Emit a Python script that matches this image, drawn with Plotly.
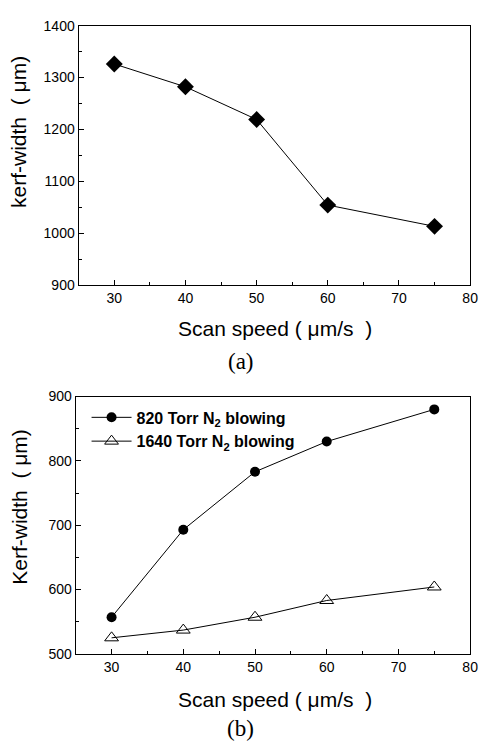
import plotly.graph_objects as go

W, H = 486, 749

# Data
speed = [30, 40, 50, 60, 75]
kerf_a = [1326, 1282, 1219, 1054, 1013]
kerf_820 = [557, 693, 783, 830, 880]
kerf_1640 = [525, 537, 557, 583, 604]
name_820 = "820 Torr N<sub>2</sub> blowing"
name_1640 = "1640 Torr N<sub>2</sub> blowing"

SANS = "Liberation Sans"
SERIF = "Liberation Serif"

def px(x):
    return x / W

def py(y):
    return 1 - y / H

fig = go.Figure()
fig.add_trace(go.Scatter(x=speed, y=kerf_a, mode="lines+markers", xaxis="x", yaxis="y",
                         line=dict(color="black", width=1),
                         marker=dict(symbol="diamond", size=13, color="black"),
                         showlegend=False))
fig.add_trace(go.Scatter(x=speed, y=kerf_820, mode="lines+markers", xaxis="x2", yaxis="y2",
                         name=name_820, line=dict(color="black", width=1),
                         marker=dict(symbol="circle", size=10, color="black")))
fig.add_trace(go.Scatter(x=speed, y=kerf_1640, mode="lines+markers", xaxis="x2", yaxis="y2",
                         name=name_1640, line=dict(color="black", width=1),
                         marker=dict(symbol="triangle-up-open", size=12, color="black",
                                     line=dict(width=1))))

tickfont = dict(family=SANS, size=14, color="black")
common = dict(showline=True, linecolor="black", linewidth=1.3, mirror=True,
              ticks="inside", ticklen=5, tickcolor="black", showgrid=False,
              zeroline=False, tickfont=tickfont)

fig.update_layout(
    width=W, height=H, margin=dict(l=0, r=0, t=0, b=0),
    plot_bgcolor="white", paper_bgcolor="white",
    font=dict(family=SANS, color="black"),
    xaxis=dict(domain=[px(80), px(478)], anchor="y", range=[25, 80], dtick=10,
               minor=dict(dtick=5, ticks="inside", ticklen=3, tickcolor="black"), **common),
    yaxis=dict(domain=[py(283), py(18)], anchor="x", range=[900, 1400], dtick=100,
               minor=dict(dtick=50, ticks="inside", ticklen=3, tickcolor="black"), **common),
    xaxis2=dict(domain=[px(77), px(478)], anchor="y2", range=[25, 80], dtick=10,
                minor=dict(dtick=5, ticks="inside", ticklen=3, tickcolor="black"), **common),
    yaxis2=dict(domain=[py(660), py(397)], anchor="x2", range=[500, 900], dtick=100,
                minor=dict(dtick=50, ticks="inside", ticklen=3, tickcolor="black"), **common),
    legend=dict(x=px(88), y=py(401), xanchor="left", yanchor="top",
                bgcolor="rgba(0,0,0,0)", tracegroupgap=0, itemwidth=40,
                font=dict(family=SANS, size=16, color="black", weight="bold")),
)

title_font = dict(family=SANS, size=21, color="black")
serif_font = dict(family=SERIF, size=23, color="black")
annots = [
    dict(text="kerf-width  ( \u03bcm)", x=px(19), y=py(127), textangle=-90, font=title_font),
    dict(text="Scan speed ( \u03bcm/s  )", x=px(280), y=py(327), font=title_font),
    dict(text="(a)", x=px(245), y=py(361), font=serif_font),
    dict(text="Kerf-width  ( \u03bcm)", x=px(19), y=py(510), textangle=-90, font=title_font),
    dict(text="Scan speed ( \u03bcm/s  )", x=px(280), y=py(707), font=title_font),
    dict(text="(b)", x=px(245), y=py(736), font=serif_font),
]
for a in annots:
    fig.add_annotation(xref="paper", yref="paper", showarrow=False,
                       xanchor="center", yanchor="middle", **a)

fig.write_html("out.html", config={"displayModeBar": False},
               post_script="document.body.style.margin='0';document.body.style.overflow='hidden';")
